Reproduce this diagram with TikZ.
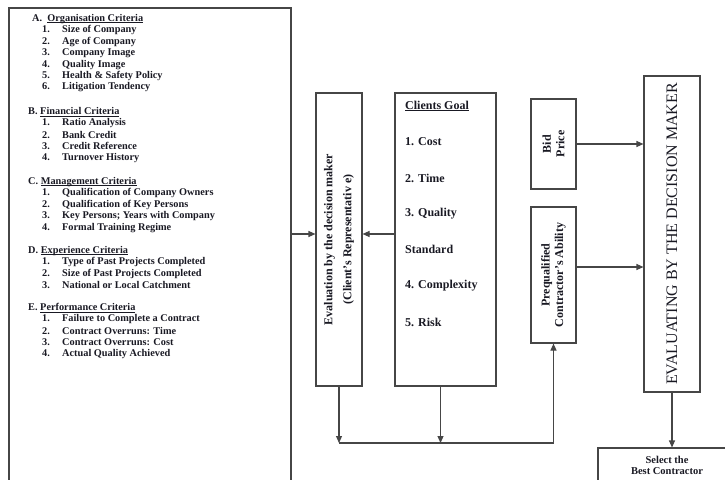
\documentclass[tikz,border=0pt]{standalone}
\usepackage{fontspec}
\setmainfont{Liberation Serif}
\usetikzlibrary{arrows.meta,positioning}
\definecolor{ink}{RGB}{25,25,35}
\definecolor{rule}{RGB}{70,70,70}
\newcommand{\hdline}[1]{\setbox0\hbox{#1}\rlap{\rule[-1.3pt]{\wd0}{0.5pt}}\box0}
\tikzset{
  >={Triangle[length=7pt,width=6pt]},
  frame/.style={draw=rule,line width=1.1pt,inner sep=0pt},
  crit head/.style={anchor=west,inner sep=0pt,text=ink,
    font=\fontsize{10.3}{11}\selectfont\bfseries},
  crit item/.style={anchor=west,inner sep=0pt,text=ink,
    font=\fontsize{10.3}{11}\selectfont\bfseries},
  goal item/.style={anchor=west,inner sep=0pt,text=ink,
    font=\fontsize{12}{14}\selectfont\bfseries},
  vtext/.style={rotate=90,align=center,inner sep=0pt,text=ink,
    font=\fontsize{12}{#1}\selectfont\bfseries},
  vtext/.default=17,
  flow/.style={->,draw=rule,line width=1.1pt},
}

\begin{document}
\begin{tikzpicture}[x=1pt,y=-1pt]
  \useasboundingbox (0,0) rectangle (725,479);
  % boxes
  \node[frame,minimum width=282pt,minimum height=492pt] (crit) at (150,254) {};
  \node[frame,minimum width=46pt,minimum height=293pt] (eval) at (339,239.5) {};
  \node[frame,minimum width=101pt,minimum height=293pt] (goal) at (445.5,239.5) {};
  \node[frame,minimum width=45pt,minimum height=90pt] (bid) at (553.5,144) {};
  \node[frame,minimum width=45pt,minimum height=136pt] (preq) at (553.5,275) {};
  \node[frame,minimum width=56pt,minimum height=316pt] (evdm) at (672,234) {};
  \node[frame,minimum width=204pt,minimum height=80pt] (sel) at (700,488) {};

  % criteria list
  \node[crit head] (hA) at (32,19) {A.\ \ \hdline{Organisation Criteria}};
  \foreach \t [count=\i] in {Size of Company,Age of Company,Company Image,Quality Image,Health \& Safety Policy,Litigation Tendency}
    \node[crit item] (a\i) at (42,19+\i*11.4) {\makebox[20pt][l]{\i.}\t};
  \node[crit head] (hB) at (28,112) {B. \hdline{Financial Criteria}};
  \foreach \t [count=\i] in {Ratio Analysis,Bank Credit,Credit Reference,Turnover History}
    \node[crit item] (b\i) at (42,112+\i*11.4) {\makebox[20pt][l]{\i.}\t};
  \node[crit head] (hC) at (28,182) {C. \hdline{Management Criteria}};
  \foreach \t [count=\i] in {Qualification of Company Owners,Qualification of Key Persons,Key Persons; Years with Company,Formal Training Regime}
    \node[crit item] (c\i) at (42,182+\i*11.4) {\makebox[20pt][l]{\i.}\t};
  \node[crit head] (hD) at (28,251) {D. \hdline{Experience Criteria}};
  \foreach \t [count=\i] in {Type of Past Projects Completed,Size of Past Projects Completed,National or Local Catchment}
    \node[crit item] (d\i) at (42,251+\i*11.4) {\makebox[20pt][l]{\i.}\t};
  \node[crit head] (hE) at (28,308) {E. \hdline{Performance Criteria}};
  \foreach \t [count=\i] in {Failure to Complete a Contract,Contract Overruns: Time,Contract Overruns: Cost,Actual Quality Achieved}
    \node[crit item] (e\i) at (42,308+\i*11.4) {\makebox[20pt][l]{\i.}\t};

  % clients goal
  \node[goal item] (gh) at (405,106) {\hdline{Clients Goal}};
  \foreach \t/\y [count=\i] in {1. Cost/142,2. Time/178,3. Quality/214,Standard/249,4. Complexity/286,5. Risk/322}
    \node[goal item] (g\i) at (405,\y) {\t};

  % rotated texts
  \node[vtext=19] (evtxt) at (eval.center) {Evaluation by the decision maker\\(Client's Representativ e)};
  \node[vtext=13.5] (bidtxt) at (bid.center) {Bid\\Price};
  \node[vtext=13.5] (preqtxt) at (preq.center) {Prequalified\\Contractor's Ability};
  \node[rotate=90,inner sep=0pt,text=ink,font=\fontsize{16}{18}\selectfont] (evdmtxt) at (evdm.center) {EVALUATING BY THE DECISION MAKER};
  \node[align=center,inner sep=0pt,text=ink,font=\fontsize{10.5}{11.5}\selectfont\bfseries] (seltxt) at (667,465.5) {Select the\\Best Contractor};

  % connectors
  \coordinate (lvl) at (0,234);
  \draw[flow] (crit.east |- lvl) -- (eval.west |- lvl);
  \draw[flow] (goal.west |- lvl) -- (eval.east |- lvl);
  \draw[flow] (bid.east) -- (evdm.west |- bid.east);
  \coordinate (plvl) at (0,267);
  \draw[flow] (preq.east |- plvl) -- (evdm.west |- plvl);
  \coordinate (join) at (339,443);
  \draw[flow] (eval.south) -- (eval.south |- join);
  \draw[flow] ([xshift=-5pt]goal.south) -- ([xshift=-5pt]goal.south |- join);
  \draw[flow] (join) -| (preq.south);
  \draw[flow] (evdm.south) -- (evdm.south |- sel.north);
\end{tikzpicture}
\end{document}
